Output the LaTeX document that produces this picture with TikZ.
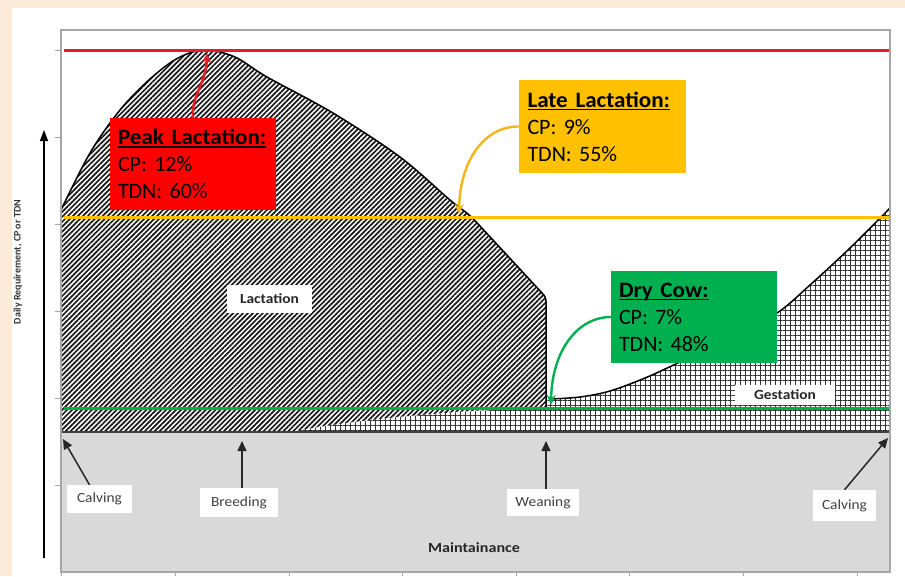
\documentclass[tikz,border=0pt]{standalone}
\usepackage{graphicx}
\usepackage{fontspec}
\setmainfont{Carlito}
\usetikzlibrary{arrows.meta,patterns.meta}
\frenchspacing
\definecolor{peach}{HTML}{FDEBD9}
\definecolor{cred}{HTML}{FF0000}
\definecolor{credline}{HTML}{E41E26}
\definecolor{cyel}{HTML}{FFC000}
\definecolor{cyelarrow}{HTML}{F2B619}
\definecolor{cgreen}{HTML}{00B050}
\definecolor{cgray}{HTML}{D9D9D9}
\newcommand\myul[1]{{\setbox0\hbox{#1}\rlap{\rule[-3pt]{\wd0}{1.6pt}}\box0}}
\newcommand\wide[1]{\scalebox{1.1}[1]{#1}}
\newcommand\bwide[1]{\scalebox{1.05}[1]{#1}}
\begin{document}
\begin{tikzpicture}[x=1pt,y=-1pt,
  infobox/.style={rectangle, minimum width=166, minimum height=92, text width=150,
    inner xsep=8, inner ysep=0, align=left, font=\fontsize{22}{27}\selectfont},
  tagbox/.style={rectangle, fill=white, inner sep=0, text=black!75,
    font=\fontsize{14}{16}\selectfont},
  phasebox/.style={rectangle, fill=white, inner sep=0, text=black!85,
    font=\bfseries\fontsize{14}{16}\selectfont},
  blackarrow/.style={black!85, line width=1.5, -{Triangle[length=10,width=9]}},
  lacthatch/.style={preaction={fill=white}, pattern={Lines[angle=45,distance=3.5pt,line width=1.7pt]}, pattern color=black!90},
  gesthatch/.style={preaction={fill=white}, pattern={Hatch[angle=0,distance=5pt,line width=1pt]}, pattern color=black!80},
  curveline/.style={black, line width=1.5},
  refline/.style={line width=3}
]
\useasboundingbox (0,0) rectangle (905,576);
\fill[peach] (0,0) rectangle (905,576);
\fill[white] (12,8) rectangle (905,576);

% maintenance area
\fill[cgray] (61,432) rectangle (890,572);

% gestation area
\path[gesthatch] (290,432) .. controls (360,418) and (470,410) .. (546,408) -- (546,400)
  -- plot[smooth,tension=0.55] coordinates {(550,399) (580,397) (610,391) (645,378) (680,362) (730,338) (777,313) (810,285) (850,248) (890,208)}
  -- (890,432) -- cycle;
\draw[curveline] plot[smooth,tension=0.55] coordinates {(550,399) (580,397) (610,391) (645,378) (680,362) (730,338) (777,313) (810,285) (850,248) (890,208)};

% lactation area
\path[lacthatch] (61,432) -- (61,210)
  -- plot[smooth,tension=0.55] coordinates {(61,210) (90,153) (120,110) (150,79) (178,58) (205,50) (235,57) (267,77) (333,113) (400,157) (450,200) (468,214) (480,226)}
  -- (542,293) .. controls (545,296) and (546,298) .. (546,302) -- (546,407)
  .. controls (470,410) and (360,418) .. (290,432) -- cycle;
\draw[curveline] plot[smooth,tension=0.55] coordinates {(61,210) (90,153) (120,110) (150,79) (178,58) (205,50) (235,57) (267,77) (333,113) (400,157) (450,200) (468,214) (480,226)}
  -- (542,293) .. controls (545,296) and (546,298) .. (546,302) -- (546,407);

% baseline
\draw[black!75, line width=2.5] (61,432) -- (890,432);

% reference lines
\draw[refline, credline] (64,50) -- (890,50);
\draw[refline, cyel] (64,217) -- (890,217);
\draw[refline, cgreen] (64,408) -- (890,408);

% frame and ticks
\draw[black!35, line width=1.5] (61,30) rectangle (890,572);
\foreach \yy in {50,137,224,311,398,485} \draw[black!35, line width=1] (55,\yy) -- (61,\yy);
\foreach \xx in {61,175,289,402,516,629,743,857} \draw[black!35, line width=1] (\xx,572) -- (\xx,576);

% y axis
\coordinate (ybot) at (44,558);
\coordinate (ytop) at (44,130);
\draw[black, line width=1.3, -{Triangle[length=11,width=8]}] (ybot) -- (ytop);
\node[rotate=90, font=\bfseries\fontsize{10}{12}\selectfont, text=black!80] (ylab) at (18,262) {Daily Requirement, CP or TDN};

% phase labels
\node[phasebox, minimum width=85, minimum height=28] (lact) at (269.5,299) {\wide{Lactation}};
\node[phasebox, minimum width=100, minimum height=20] (gest) at (785,395) {\wide{Gestation}};
\node[font=\bfseries\fontsize{14}{16}\selectfont, text=black!85] (maint) at (474,548) {\scalebox{1.15}[1]{Maintainance}};

% info boxes
\node[infobox, fill=cred] (peak) at (193,164) {\myul{\textbf{\bwide{Peak Lactation:}}}\\CP: 12\%\\TDN: 60\%};
\node[infobox, fill=cyel, minimum width=167, minimum height=93] (late) at (602.5,126.5) {\myul{\textbf{\bwide{Late Lactation:}}}\\CP: 9\%\\TDN: 55\%};
\node[infobox, fill=cgreen] (dry) at (694,317) {\myul{\textbf{\bwide{Dry Cow:}}}\\CP: 7\%\\TDN: 48\%};

\coordinate (peaktip) at (207,53);
\coordinate (latetip) at (459,214);
\coordinate (drytip) at (551,405);
\draw[credline, line width=2.6, -{Stealth[length=10,width=9]}] (peak.north) .. controls (191,96) and (206,84) .. (peaktip);
\draw[cyelarrow, line width=2.4, -{Stealth[length=10,width=9]}] (late.west) .. controls (485,126) and (460,160) .. (latetip);
\draw[cgreen, line width=2.4, -{Stealth[length=10,width=9]}] (dry.west) .. controls (578,317) and (552,350) .. (drytip);

% event tags
\node[tagbox, minimum width=65, minimum height=28] (calv1) at (99.5,499) {\wide{Calving}};
\node[tagbox, minimum width=78, minimum height=29] (breed) at (239,502.5) {\wide{Breeding}};
\node[tagbox, minimum width=72, minimum height=27] (wean) at (543,502.5) {\wide{Weaning}};
\node[tagbox, minimum width=63, minimum height=31] (calv2) at (844.5,505.5) {\wide{Calving}};

\coordinate (calv1tip) at (63,439);
\coordinate (breedtip) at (242,441);
\coordinate (weantip) at (546,441);
\coordinate (calv2tip) at (888,438);
\draw[blackarrow] ([xshift=-10]calv1.north) -- (calv1tip);
\draw[blackarrow] ([xshift=3]breed.north) -- (breedtip);
\draw[blackarrow] ([xshift=3]wean.north) -- (weantip);
\draw[blackarrow] (calv2.north) -- (calv2tip);
\end{tikzpicture}
\end{document}
